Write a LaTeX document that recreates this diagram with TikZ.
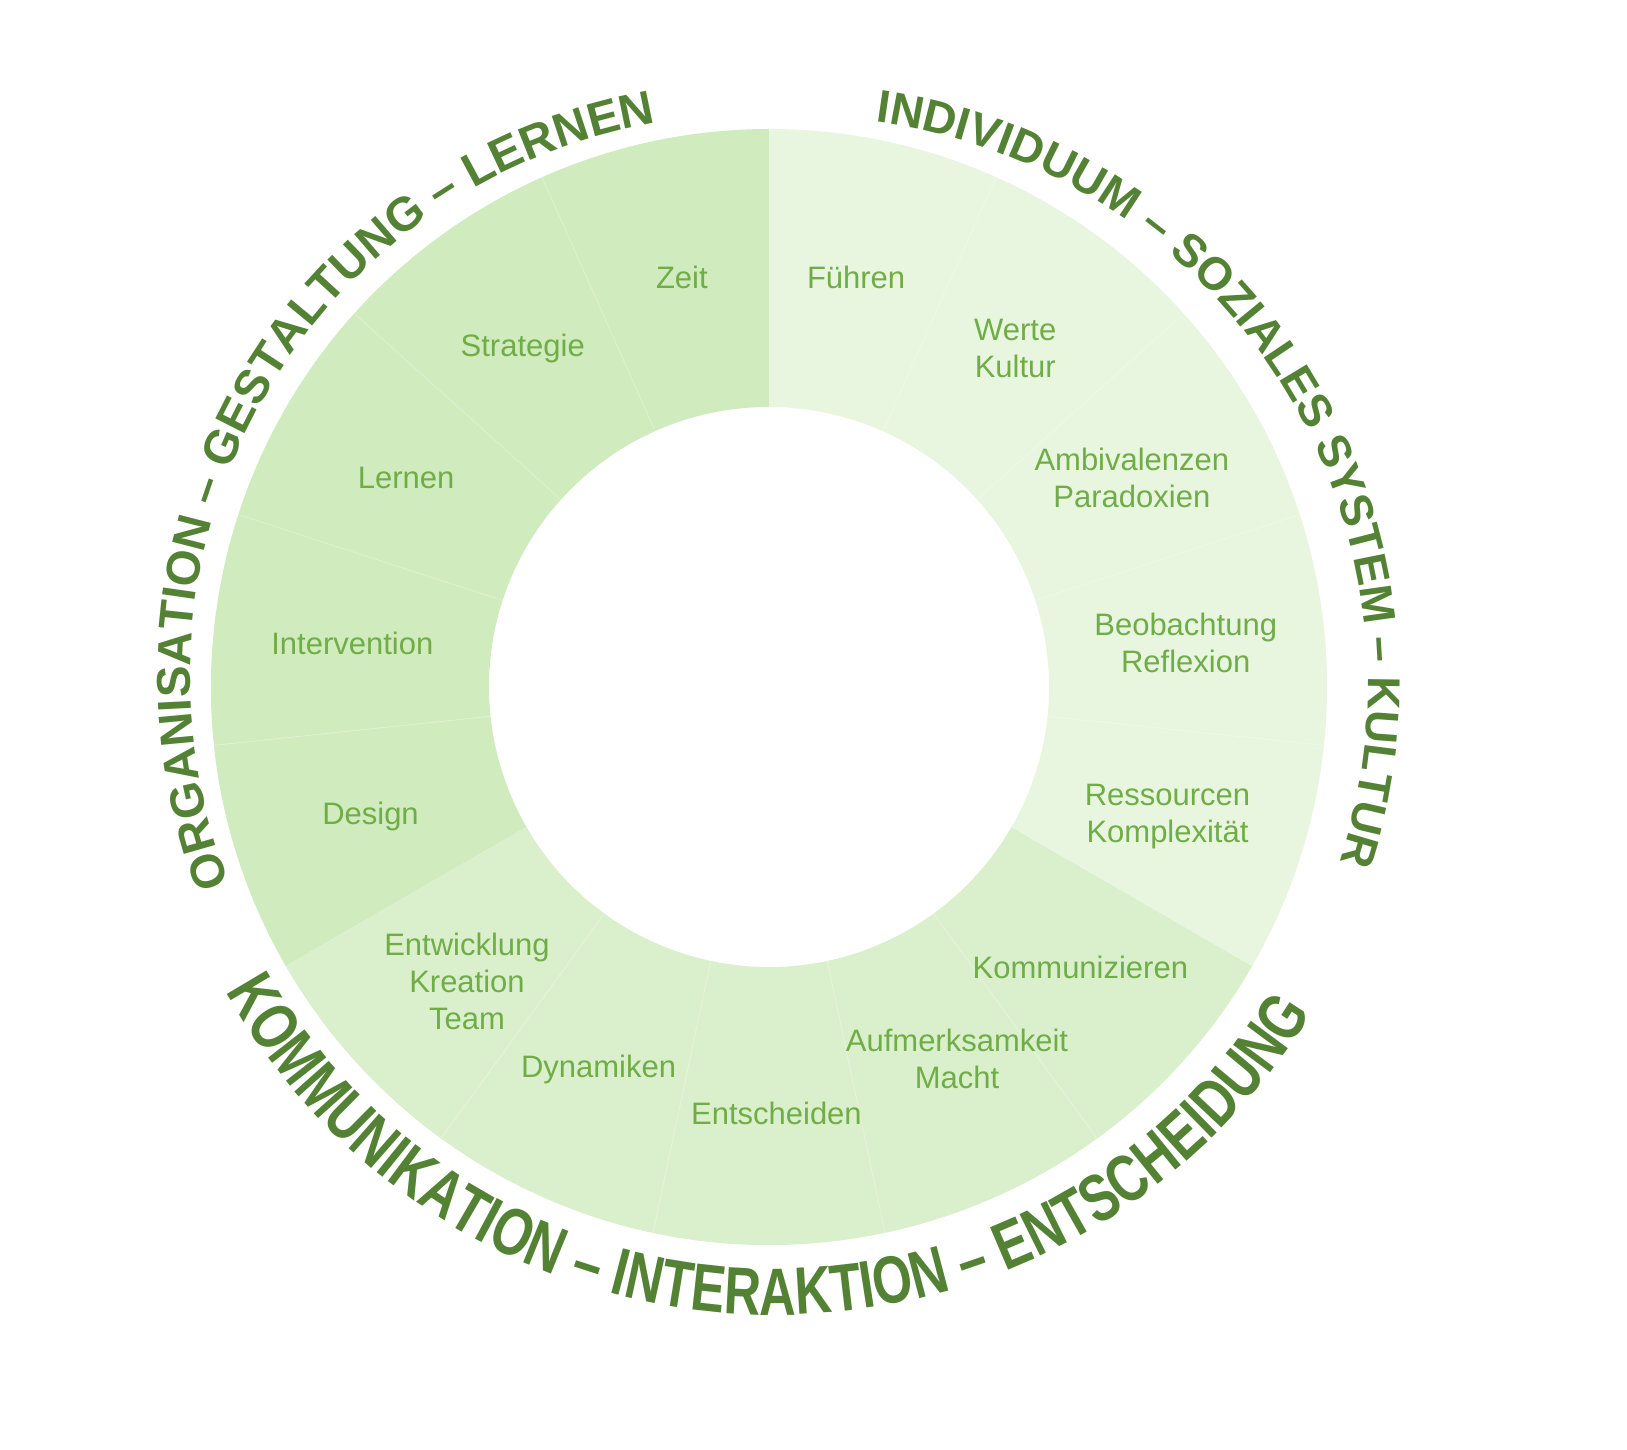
\documentclass[tikz,border=0pt]{standalone}
\usepackage{fontspec}
\setmainfont{Liberation Sans}
\newfontfamily\tallfont[FakeStretch=0.76]{Liberation Sans}
\usepackage{tikz}
\usepackage{xcolor}
\usetikzlibrary{decorations.text}

\definecolor{ringA}{HTML}{D0EBBE}
\definecolor{ringB}{HTML}{DAF0CD}
\definecolor{ringC}{HTML}{E8F6E0}
\definecolor{lblgreen}{HTML}{70AD47}
\definecolor{darkgreen}{HTML}{548235}
\newcommand{\ringin}{280}
\newcommand{\ringout}{558}
\newcommand{\titlefont}{\fontsize{46}{55}\selectfont\bfseries}
\newcommand{\lefttitle}{\fontsize{47.5}{56}\selectfont\bfseries}
\newcommand{\talltitle}{\tallfont\fontsize{67}{80}\selectfont\bfseries}

\begin{document}
\begin{tikzpicture}[x=1pt,y=1pt,
        lbl/.style={text=lblgreen,font=\fontsize{31}{37}\selectfont,align=center},
        sep/.style={white,opacity=0.3,line width=0.8pt}]
        \useasboundingbox (-769,-762) rectangle (858,687);

        % draw the three coloured parts of the ring
        \foreach \a/\b/\col in {90/210/ringA, 210/330/ringB, -30/90/ringC}
                \fill[\col] (\a:\ringin) arc[start angle=\a, end angle=\b, radius=\ringin]
                        -- (\b:\ringout) arc[start angle=\b, end angle=\a, radius=\ringout] -- cycle;

        % faint lines between the fields
        \foreach \a in {114,138,162,186,234,258,282,306,-6,18,42,66}
                \draw[sep] (\a:\ringin) -- (\a:\ringout);

        % the field labels, each in the middle of its field
        \foreach \a/\r/\txt/\nm in {
            78/419/F\"uhren/fuehren,
            54/419/{Werte\\Kultur}/werte,
            30/419/{Ambivalenzen\\Paradoxien}/ambi,
            6/419/{Beobachtung\\Reflexion}/beob,
            -18/419/{Ressourcen\\Komplexit\"at}/ress,
            224.3/422/{Entwicklung\\Kreation\\Team}/entw,
            246/419/Dynamiken/dyn,
            271/426/Entscheiden/entsch,
            296.8/417/{Aufmerksamkeit\\Macht}/aufm,
            318/419/Kommunizieren/komm,
            102/419/Zeit/zeit,
            126/419/Strategie/strat,
            150/419/Lernen/lern,
            174/419/Intervention/interv,
            198/419/Design/design}
                \node[lbl] (\nm) at (\a:\r) {\txt};

        % the curved titles round the ring
        \path[decorate,decoration={text along path,text align=center,text color=darkgreen,
                text={|\titlefont|INDIVIDUUM – SOZIALES SYSTEM – KULTUR}}]
                (31,2) ++(119.6:568) arc[start angle=119.6,end angle=-55.4,radius=568];
        \path[decorate,decoration={text along path,text align=center,text color=darkgreen,
                text={|\lefttitle|ORGANISATION – GESTALTUNG – LERNEN}}]
                (-16.7,10.5) ++(238.2:562) arc[start angle=238.2,end angle=63.2,radius=562];
        \path[decorate,decoration={text along path,text align=center,text color=darkgreen,
                text={|\talltitle|KOMMUNIKATION – INTERAKTION – ENTSCHEIDUNG}}]
                (6,0) ++(181.35:628) arc[start angle=181.35,end angle=356.35,radius=628];
\end{tikzpicture}
\end{document}
